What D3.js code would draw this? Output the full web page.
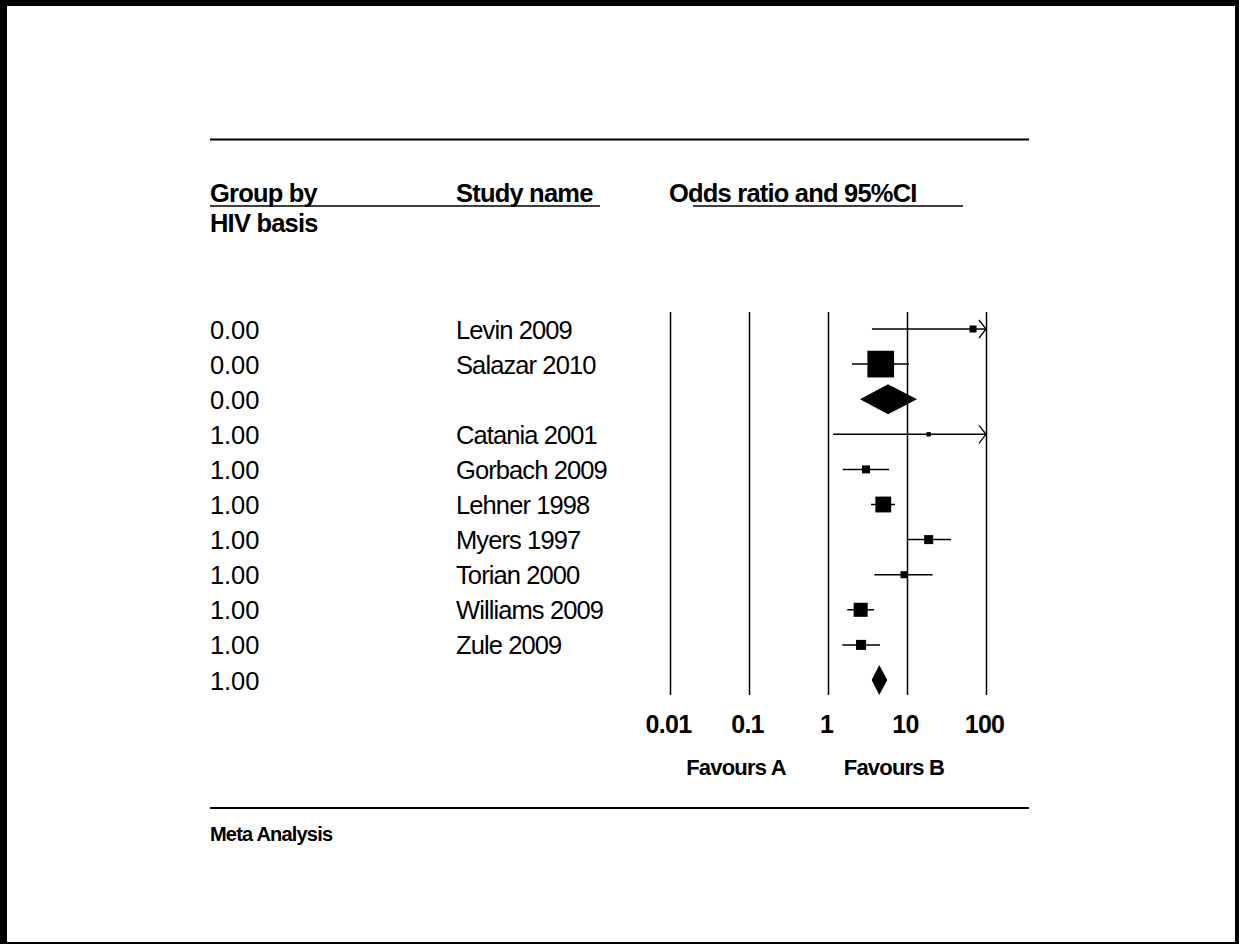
<!DOCTYPE html>
<html>
<head>
<meta charset="utf-8">
<script src="https://cdn.jsdelivr.net/npm/d3@7/dist/d3.min.js"></script>
<style>
  html, body { margin: 0; padding: 0; background: #fff; }
  svg { display: block; }
  text { font-family: "Liberation Sans", Arial, sans-serif; fill: #000; }
</style>
</head>
<body>
<svg id="chart" width="1239" height="944"></svg>
<script>
// Forest plot: odds ratios with 95% CI, grouped by HIV basis

// Individual studies
const studyNames  = ["Levin 2009", "Salazar 2010", "Catania 2001", "Gorbach 2009", "Lehner 1998",
                     "Myers 1997", "Torian 2000", "Williams 2009", "Zule 2009"];
const studyGroup  = ["0.00", "0.00", "1.00", "1.00", "1.00", "1.00", "1.00", "1.00", "1.00"];
const oddsRatio   = [68.5, 4.65, 18.8, 3.03, 5.01, 18.8, 9.16, 2.59, 2.62];
const lowerCI     = [3.6, 2.01, 1.16, 1.53, 3.50, 10.1, 3.86, 1.75, 1.52];
const upperCI     = [1290, 10.6, 310, 5.92, 7.05, 36.1, 21.1, 3.82, 4.55];
const weights     = [6.4, 93.6, 2.5, 8.4, 32.9, 10.7, 6.5, 25.8, 13.2]; // relative weight (%) within subgroup

// Subgroup summaries
const summaryGroup = ["0.00", "1.00"];
const summaryOR    = [5.75, 4.46];
const summaryLower = [2.54, 3.57];
const summaryUpper = [13.4, 5.63];

// Axis
const tickValues = [0.01, 0.1, 1, 10, 100];
const tickLabels = ["0.01", "0.1", "1", "10", "100"];

// Row layout: each subgroup's studies followed by its summary
const rows = [];
summaryGroup.forEach((g, gi) => {
  studyNames.forEach((name, i) => {
    if (studyGroup[i] === g) {
      rows.push({ type: "study", group: g, name, or: oddsRatio[i], lo: lowerCI[i], hi: upperCI[i], w: weights[i] });
    }
  });
  rows.push({ type: "summary", group: g, name: "", or: summaryOR[gi], lo: summaryLower[gi], hi: summaryUpper[gi] });
});

const svg = d3.select("#chart");
const W = 1239, H = 944;

// Page frame
svg.append("rect").attr("x", 0).attr("y", 0).attr("width", W).attr("height", H).attr("fill", "#000");
svg.append("rect").attr("x", 7).attr("y", 6).attr("width", 1228).attr("height", 936).attr("fill", "#fff");

const left = 210, right = 1029;
const colStudy = 456;

const x = d3.scaleLog().domain([0.01, 100]).range([670, 986]);
const plotTop = 312, plotBottom = 695;
const y = d3.scalePoint().domain(d3.range(rows.length)).range([329, 680]);
const boxSize = d3.scaleSqrt().domain([0, 100]).range([0, 27.6]);

// Top and bottom rules
svg.append("line").attr("x1", left).attr("x2", right).attr("y1", 139.5).attr("y2", 139.5)
  .attr("stroke", "#000").attr("stroke-width", 2);
svg.append("line").attr("x1", left).attr("x2", right).attr("y1", 808).attr("y2", 808)
  .attr("stroke", "#000").attr("stroke-width", 2);

// Column headers
const hdr = svg.append("g").attr("font-weight", "bold").attr("font-size", 25.5).attr("letter-spacing", -0.8);
hdr.append("text").attr("x", left).attr("y", 202).text("Group by");
hdr.append("text").attr("x", left).attr("y", 232).text("HIV basis");
hdr.append("text").attr("x", colStudy).attr("y", 202).text("Study name");
hdr.append("text").attr("x", x(0.01) - 1).attr("y", 202).text("Odds ratio and 95%CI");
svg.append("line").attr("x1", left).attr("x2", 600).attr("y1", 206).attr("y2", 206)
  .attr("stroke", "#000").attr("stroke-width", 1.5);
svg.append("line").attr("x1", 693).attr("x2", 963).attr("y1", 206).attr("y2", 206)
  .attr("stroke", "#000").attr("stroke-width", 1.5);

// Row labels
const lab = svg.append("g").attr("font-size", 25.5);
rows.forEach((r, i) => {
  lab.append("text").attr("x", left).attr("y", y(i) + 9.5).attr("letter-spacing", -0.1).text(r.group);
  if (r.name) lab.append("text").attr("x", colStudy).attr("y", y(i) + 9.5)
    .attr("letter-spacing", -0.9).text(r.name);
});

// Axis with full-height reference lines
const axis = d3.axisBottom(x)
  .tickValues(tickValues)
  .tickFormat((d, i) => tickLabels[i])
  .tickSizeInner(-(plotBottom - plotTop))
  .tickSizeOuter(0)
  .tickPadding(20);
const ax = svg.append("g").attr("transform", `translate(0,${plotBottom})`).call(axis);
ax.select(".domain").remove();
ax.selectAll(".tick line").attr("stroke", "#000").attr("stroke-width", 1.5);
ax.selectAll(".tick text")
  .attr("fill", "#000")
  .attr("font-family", "'Liberation Sans', Arial, sans-serif")
  .attr("font-size", 25)
  .attr("font-weight", "bold")
  .attr("letter-spacing", -0.7)
  .attr("dx", -2);

// Direction labels
const fav = svg.append("g").attr("font-weight", "bold").attr("font-size", 22)
  .attr("letter-spacing", -0.8).attr("text-anchor", "middle");
fav.append("text").attr("x", x(0.1) - 13).attr("y", 775).text("Favours A");
fav.append("text").attr("x", x(10) - 13).attr("y", 775).text("Favours B");

// Footer
svg.append("text").attr("x", left).attr("y", 841).attr("font-size", 20).attr("font-weight", "bold")
  .attr("letter-spacing", -0.8).text("Meta Analysis");

// Marks
const [xMin, xMax] = x.domain();
const marks = svg.append("g");
rows.forEach((r, i) => {
  const cy = y(i);
  if (r.type === "study") {
    const lo = Math.max(r.lo, xMin), hi = Math.min(r.hi, xMax);
    marks.append("line").attr("x1", x(lo)).attr("x2", x(hi)).attr("y1", cy).attr("y2", cy)
      .attr("stroke", "#000").attr("stroke-width", 1.5);
    if (r.hi > xMax) {
      const tx = x(xMax);
      marks.append("path").attr("d", `M${tx - 7},${cy - 9}L${tx},${cy}L${tx - 7},${cy + 9}`)
        .attr("fill", "none").attr("stroke", "#000").attr("stroke-width", 1.3);
    }
    if (r.lo < xMin) {
      const tx = x(xMin);
      marks.append("path").attr("d", `M${tx + 7},${cy - 9}L${tx},${cy}L${tx + 7},${cy + 9}`)
        .attr("fill", "none").attr("stroke", "#000").attr("stroke-width", 1.3);
    }
    const s = boxSize(r.w);
    marks.append("rect").attr("x", x(r.or) - s / 2).attr("y", cy - s / 2)
      .attr("width", s).attr("height", s).attr("fill", "#000");
  } else {
    const h = 15;
    marks.append("path")
      .attr("d", `M${x(r.lo)},${cy}L${x(r.or)},${cy - h}L${x(r.hi)},${cy}L${x(r.or)},${cy + h}Z`)
      .attr("fill", "#000");
  }
});
</script>
</body>
</html>
